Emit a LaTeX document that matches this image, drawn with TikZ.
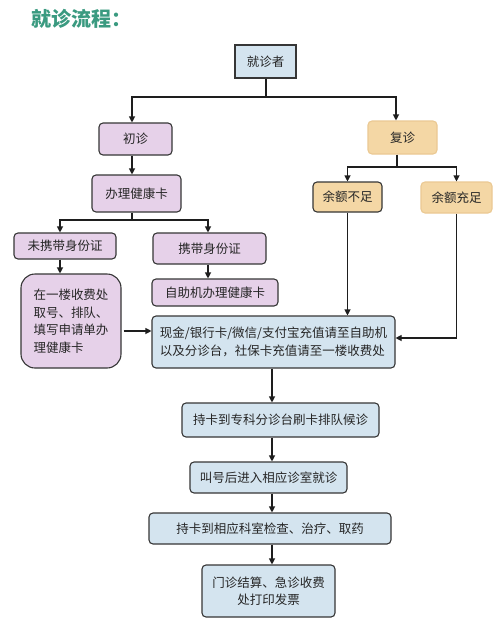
\documentclass[tikz,border=0pt]{standalone}
\usepackage{fontspec}
\setmainfont{Noto Sans CJK SC}
\usetikzlibrary{arrows.meta}
\definecolor{bluefill}{HTML}{D4E4EF}
\definecolor{purplefill}{HTML}{E6D1E9}
\definecolor{tanfill}{HTML}{F4D7A5}
\definecolor{tanedge}{HTML}{EBC993}
\definecolor{edge}{HTML}{363636}
\definecolor{linec}{HTML}{1E1E1E}
\definecolor{titlec}{HTML}{3A9A80}
\begin{document}
\begin{tikzpicture}[x=1pt,y=-1pt,
  box/.style={draw=edge,line width=1.1pt,inner sep=0pt,font=\fontsize{12.5}{17.5}\selectfont,align=center,text=black!85},
  bluebox/.style={box,fill=bluefill,rounded corners=4pt},
  sqbox/.style={box,fill=bluefill},
  purplebox/.style={box,fill=purplefill,rounded corners=4pt},
  tanbox/.style={box,fill=tanfill,rounded corners=4pt},
  lighttan/.style={tanbox,draw=tanedge},
  ln/.style={line width=1.1pt,draw=linec},
  arr/.style={ln,-{Triangle[length=6pt,width=6pt]}}]
\useasboundingbox (0,0) rectangle (503,624);
\fill[white] (0,0) rectangle (503,624);

\node[anchor=west,font=\fontsize{20}{24}\selectfont\bfseries,text=titlec] (title) at (28,19) {就诊流程：};

\node[sqbox,minimum width=61pt,minimum height=33pt] (jzz) at (265.5,61.5) {就诊者};
\node[purplebox,minimum width=73pt,minimum height=32pt] (cz) at (135.5,139) {初诊};
\node[purplebox,minimum width=89pt,minimum height=37pt] (bl) at (136.5,193.5) {办理健康卡};
\node[lighttan,minimum width=69pt,minimum height=33pt] (fz) at (402.5,137.5) {复诊};
\node[tanbox,minimum width=69pt,minimum height=30pt] (ybz) at (347.5,197) {余额不足};
\node[lighttan,minimum width=71pt,minimum height=31pt] (ycz) at (456.5,197.5) {余额充足};
\node[purplebox,minimum width=102pt,minimum height=26pt] (wx) at (65,246) {未携带身份证};
\node[purplebox,minimum width=113pt,minimum height=31pt] (xd) at (209.5,248.5) {携带身份证};
\node[purplebox,rounded corners=14pt,minimum width=100pt,minimum height=94pt,align=left] (zq) at (71,321) {在一楼收费处\\取号、排队、\\填写申请单办\\理健康卡};
\node[purplebox,minimum width=126pt,minimum height=27pt] (zz) at (215,292.5) {自助机办理健康卡};
\node[bluebox,minimum width=243pt,minimum height=52pt,align=left] (xj) at (273.5,342) {现金/银行卡/微信/支付宝充值请至自助机\\以及分诊台，社保卡充值请至一楼收费处};
\node[bluebox,minimum width=197pt,minimum height=34pt] (ck1) at (280.5,420) {持卡到专科分诊台刷卡排队候诊};
\node[bluebox,minimum width=157pt,minimum height=31pt] (jh) at (268.5,477.5) {叫号后进入相应诊室就诊};
\node[bluebox,minimum width=242pt,minimum height=31pt] (ck2) at (270,528.5) {持卡到相应科室检查、治疗、取药};
\node[bluebox,minimum width=133pt,minimum height=52pt] (mz) at (268.5,591) {门诊结算、急诊收费\\处打印发票};

% helper coordinates
\coordinate (j1) at (266,97);
\coordinate (lx) at (132,0);
\coordinate (rx) at (396,0);
\coordinate (j2) at (397,167);
\coordinate (j3) at (132,220);
\coordinate (ax) at (60,0);
\coordinate (bx) at (208,0);
\coordinate (cx) at (272,0);
\coordinate (ay) at (0,331);
\coordinate (by) at (0,338);

% connectors
\draw[ln] (jzz.south -| j1) -- (j1);
\draw[arr] (j1) -| (cz.north -| lx);
\draw[arr] (j1) -| (fz.north -| rx);
\draw[arr] (cz.south -| lx) -- (bl.north -| lx);
\draw[ln] (fz.south -| j2) -- (j2);
\draw[arr] (j2) -| (ybz.north);
\draw[arr] (j2) -| (ycz.north);
\draw[ln] (bl.south -| j3) -- (j3);
\draw[arr] (j3) -| (wx.north -| ax);
\draw[arr] (j3) -| (xd.north -| bx);
\draw[arr] (wx.south -| ax) -- (zq.north -| ax);
\draw[arr] (xd.south -| bx) -- (zz.north -| bx);
\draw[arr] ([xshift=2pt]zq.east |- ay) -- (xj.west |- ay);
\draw[arr] (ybz.south) -- (xj.north -| ybz.south);
\draw[arr] (ycz.south) |- (xj.east |- by);
\draw[arr] (xj.south -| cx) -- (ck1.north -| cx);
\draw[arr] (ck1.south -| cx) -- (jh.north -| cx);
\draw[arr] (jh.south -| cx) -- (ck2.north -| cx);
\draw[arr] (ck2.south -| cx) -- (mz.north -| cx);
\end{tikzpicture}
\end{document}
